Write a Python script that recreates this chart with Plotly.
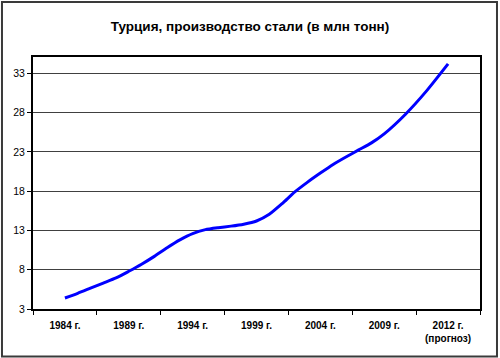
import plotly.graph_objects as go

# Category labels (one per 5-year slot, last is the forecast)
categories = ["1984 г.", "1989 г.", "1994 г.", "1999 г.", "2004 г.", "2009 г.", "2012 г.<br>(прогноз)"]

# Yearly readings (млн тонн)
years = [1984, 1985, 1986, 1987, 1988, 1989, 1990, 1991, 1992, 1993, 1994,
         1995, 1996, 1997, 1998, 1999, 2000, 2001, 2002, 2003, 2004,
         2005, 2006, 2007, 2008, 2009, 2010, 2011, 2012]
steel = [4.4, 5.0, 5.65, 6.3, 6.95, 7.8, 8.7, 9.7, 10.8, 11.8, 12.6,
         13.1, 13.35, 13.55, 13.8, 14.2, 15.05, 16.4, 17.9, 19.15, 20.3,
         21.4, 22.35, 23.25, 24.15, 25.3, 27.8, 30.8, 34.2]

y_ticks = [3, 8, 13, 18, 23, 28, 33]

# position of a year on the category scale (5-year slots, last slot spans 2009-2012)
def cat_pos(year):
    if year <= 2009:
        return 1 + (year - 1984) / 5
    return 6 + (year - 2009) / 3

x_pos = [cat_pos(y) for y in years]

fig = go.Figure()
fig.add_trace(go.Scatter(
    x=x_pos, y=steel, mode="lines",
    line=dict(color="#0000FF", width=3, shape="spline", smoothing=0.6),
    hoverinfo="skip", showlegend=False,
))

fig.update_layout(
    width=500, height=358,
    margin=dict(l=33, r=20, t=57, b=49),
    paper_bgcolor="white", plot_bgcolor="white",
    font=dict(family="Liberation Sans, Arial, sans-serif", color="black"),
    title=dict(text="<b>Турция, производство стали (в млн тонн)</b>",
               x=0.5, xanchor="center", y=0.928, yanchor="middle",
               font=dict(size=13.5, color="black")),
    xaxis=dict(
        range=[0.5, 7.5], tickmode="array",
        tickvals=list(range(1, len(categories) + 1)),
        ticktext=["<b>" + c.replace("<br>", "</b><br><b>") + "</b>" for c in categories],
        ticks="", showgrid=False, zeroline=False, ticklabelstandoff=6,
        showline=True, linecolor="black", linewidth=2, mirror=True,
        tickfont=dict(size=10, family="Liberation Sans, Arial, sans-serif"),
        minor=dict(tickmode="linear", tick0=0.5, dtick=1, ticks="outside",
                   ticklen=4, tickcolor="black", tickwidth=1, showgrid=False),
        fixedrange=True,
    ),
    yaxis=dict(
        range=[3, 35.08], tickmode="array", tickvals=y_ticks,
        ticks="outside", ticklen=4, tickcolor="black", tickwidth=1,
        showgrid=True, gridcolor="#404040", gridwidth=1, zeroline=False,
        showline=True, linecolor="black", linewidth=2, mirror=True,
        tickfont=dict(size=10.5),
        fixedrange=True,
    ),
    shapes=[dict(type="rect", xref="paper", yref="paper",
                 x0=-0.0694, x1=1.038, y0=-0.188, y1=1.2186,
                 line=dict(color="#3a3a3a", width=2), layer="below")],
)

fig.write_html("out.html")
